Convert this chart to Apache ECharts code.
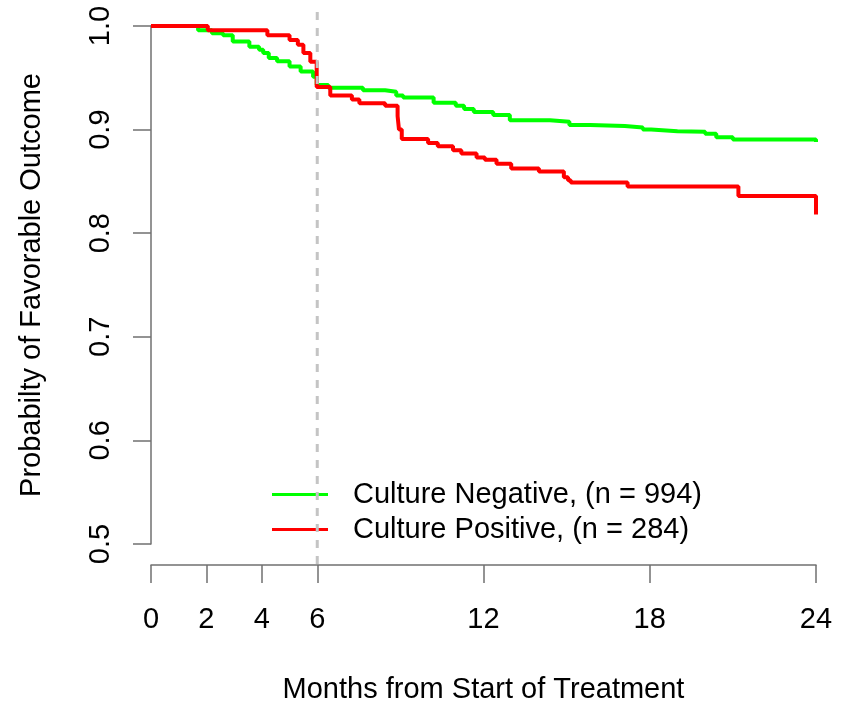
<!DOCTYPE html>
<html>
<head>
<meta charset="utf-8">
<script src="https://cdn.jsdelivr.net/npm/echarts@6/dist/echarts.min.js"></script>
<style>
  html, body { margin: 0; padding: 0; background: #ffffff; }
  #chart { width: 843px; height: 704px; }
</style>
</head>
<body>
<div id="chart"></div>
<script>
// Kaplan-Meier estimates: month at which each step happens, and probability after it
const negMonths = [0, 1.7, 2.2, 2.6, 2.95, 3.55, 3.9, 4.05, 4.25, 4.55, 5.0, 5.4, 5.85, 5.98, 6.4, 7.65, 8.45, 8.85, 9.1, 10.2, 11.0, 11.3, 11.65, 12.35, 12.95, 14.4, 15.1, 15.85, 17.1, 17.75, 18.05, 19.0, 20.0, 20.4, 21.0, 24.0];
const negProb   = [1.000, 0.996, 0.993, 0.991, 0.985, 0.980, 0.977, 0.974, 0.969, 0.966, 0.961, 0.956, 0.951, 0.943, 0.9405, 0.938, 0.9365, 0.933, 0.931, 0.926, 0.923, 0.920, 0.917, 0.914, 0.909, 0.9075, 0.9045, 0.9035, 0.902, 0.900, 0.8985, 0.898, 0.896, 0.8925, 0.8905, 0.888];

const posMonths = [0, 2.05, 4.2, 5.0, 5.3, 5.5, 5.75, 5.98, 6.47, 7.25, 7.52, 8.45, 8.9, 8.95, 9.05, 10.0, 10.35, 10.9, 11.2, 11.75, 12.05, 12.47, 13.0, 14.0, 14.9, 15.05, 15.15, 17.2, 21.2, 24.0];
const posProb   = [1.000, 0.996, 0.991, 0.9865, 0.982, 0.974, 0.9655, 0.941, 0.933, 0.929, 0.9255, 0.923, 0.913, 0.900, 0.891, 0.887, 0.884, 0.880, 0.877, 0.873, 0.871, 0.867, 0.8625, 0.8595, 0.854, 0.851, 0.849, 0.845, 0.836, 0.818];

const seriesNames = ['Culture Negative, (n = 994)', 'Culture Positive, (n = 284)'];
const xTicks = [0, 2, 4, 6, 12, 18, 24];
const landmarkMonth = 6;

const FONT = '"Liberation Sans", Arial, Helvetica, sans-serif';
const FONT_SIZE = 29;
const AXIS_COLOR = '#707070';

const pairs = (xs, ys) => xs.map((x, i) => [x, ys[i]]);

const chart = echarts.init(document.getElementById('chart'), null, { renderer: 'canvas' });

chart.setOption({
  animation: false,
  backgroundColor: '#ffffff',
  textStyle: { fontFamily: FONT, color: '#000' },
  grid: { left: 151, right: 27, top: 26, bottom: 160, containLabel: false, outerBoundsMode: 'none' },
  legend: {
    orient: 'vertical',
    left: 272,
    top: 480,
    padding: 0,
    itemWidth: 56,
    itemHeight: 20,
    itemGap: 6,
    icon: 'path://M0,8.5 L56,8.5 L56,11.5 L0,11.5 Z',
    data: seriesNames,
    textStyle: { fontFamily: FONT, fontSize: FONT_SIZE, color: '#000', padding: [0, 0, 0, 20] }
  },
  xAxis: {
    type: 'value',
    min: 0,
    max: 24,
    offset: 21,
    name: 'Months from Start of Treatment',
    nameLocation: 'middle',
    nameGap: 110,
    nameTextStyle: { fontFamily: FONT, fontSize: FONT_SIZE, color: '#000' },
    axisLine: { show: true, lineStyle: { color: AXIS_COLOR, width: 1.5 } },
    axisTick: { show: true, length: 18, customValues: xTicks, lineStyle: { color: AXIS_COLOR, width: 1.5 } },
    axisLabel: { customValues: xTicks, fontFamily: FONT, fontSize: FONT_SIZE, color: '#000', margin: 40 },
    splitLine: { show: false }
  },
  yAxis: {
    type: 'value',
    min: 0.5,
    max: 1.0,
    interval: 0.1,
    name: 'Probabilty of Favorable Outcome',
    nameLocation: 'middle',
    nameGap: 105,
    nameRotate: 90,
    nameTextStyle: { fontFamily: FONT, fontSize: FONT_SIZE, color: '#000' },
    axisLine: { show: true, lineStyle: { color: AXIS_COLOR, width: 1.5 } },
    axisTick: { show: true, length: 18, lineStyle: { color: AXIS_COLOR, width: 1.5 } },
    axisLabel: {
      rotate: 90,
      margin: 36,
      fontFamily: FONT,
      fontSize: FONT_SIZE,
      color: '#000',
      formatter: v => v.toFixed(1)
    },
    splitLine: { show: false }
  },
  series: [
    {
      name: seriesNames[0],
      type: 'line',
      step: 'end',
      symbol: 'none',
      color: '#00ff00',
      lineStyle: { color: '#00ff00', width: 4 },
      data: pairs(negMonths, negProb),
      z: 2
    },
    {
      name: seriesNames[1],
      type: 'line',
      step: 'end',
      symbol: 'none',
      color: '#ff0000',
      lineStyle: { color: '#ff0000', width: 4 },
      data: pairs(posMonths, posProb),
      z: 3
    }
  ]
});

// Dashed landmark line at 6 months, drawn across the plot and down to the x axis
const lx = chart.convertToPixel({ xAxisIndex: 0 }, landmarkMonth);
const axisY = chart.convertToPixel({ yAxisIndex: 0 }, 0.5) + 21;
chart.setOption({
  graphic: [{
    type: 'line',
    z: 100,
    shape: { x1: lx, y1: 12, x2: lx, y2: axisY },
    style: { stroke: '#c4c4c4', lineWidth: 3, lineDash: [8, 8] }
  }]
});
</script>
</body>
</html>
